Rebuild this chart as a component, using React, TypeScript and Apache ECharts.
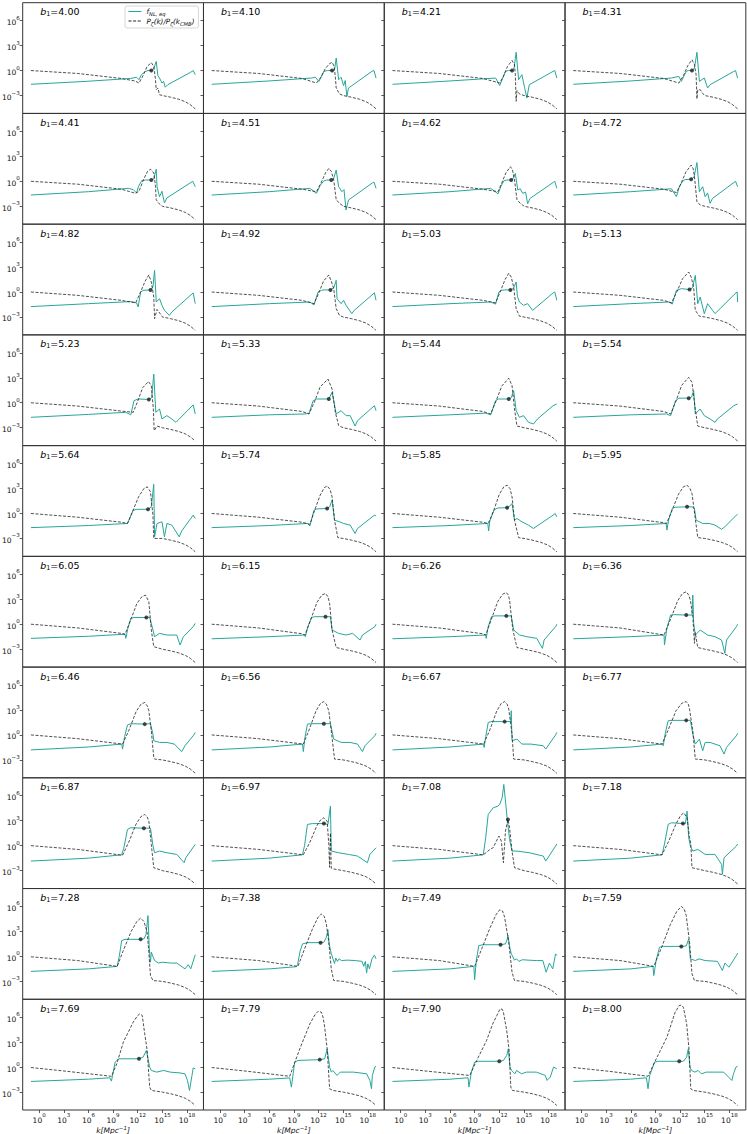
import React, { useEffect, useRef } from "react";
import * as echarts from "echarts";

// ---- labels & ticks (exponents, log10) ----
const b1Labels = [
  "4.00", "4.10", "4.21", "4.31", "4.41", "4.51", "4.62", "4.72",
  "4.82", "4.92", "5.03", "5.13", "5.23", "5.33", "5.44", "5.54",
  "5.64", "5.74", "5.85", "5.95", "6.05", "6.15", "6.26", "6.36",
  "6.46", "6.56", "6.67", "6.77", "6.87", "6.97", "7.08", "7.18",
  "7.28", "7.38", "7.49", "7.59", "7.69", "7.79", "7.90", "8.00",
];
const xTickExps = [0, 3, 6, 9, 12, 15, 18];
const yTickExps = [-3, 0, 3, 6];

// ---- data: [log10 k, log10 value] ----
// common late-time tail of P_zeta(k)/P_zeta(k_CMB)
const pzTail = [[15, -3.0], [16, -3.2], [17, -3.45], [17.8, -3.75], [18.4, -4.1], [19, -4.6]];

const f400 = [[-1,-1.65],[5.7,-1.3],[11.15,-0.95],[11.85,-0.8],[12.15,-1.1],[12.45,-0.5],[12.95,-0.1],[13.25,0],[13.65,0],[13.95,0.2],[14.25,1.1],[14.45,-0.6],[14.65,-0.9],[14.95,-1.5],[15.15,-1.3],[15.35,-2.0],[15.65,-1.7],[17.15,-0.9],[18.45,-0.2],[18.75,0],[19,-0.5]];
const p400 = [[-1,0],[4.7,-0.35],[10,-0.95],[11.65,-1.25],[12.15,-1.5],[12.65,-0.6],[13.15,0.5],[13.65,0.95],[13.95,0.5],[14.15,-1.0],[14.25,-2.3],[14.45,-2.1],[14.65,-2.9]];
const f410 = [[-1,-1.65],[6,-1.25],[11.15,-0.9],[11.6,-0.8],[12.05,-1.3],[12.65,-0.1],[13.1,0],[13.65,0],[13.95,0.1],[14.15,1.5],[14.45,-1.1],[14.75,-0.8],[15.05,-1.8],[15.25,-1.2],[15.45,-3.1],[15.65,-2.1],[18.5,-0.1],[18.75,0],[19,-0.9]];
const p410 = [[-1,0],[4.7,-0.35],[10,-0.95],[11.75,-1.5],[12.3,-0.8],[12.8,0.2],[13.3,0.8],[13.65,1.0],[13.9,0.5],[14.05,-0.8],[14.15,-2.1],[14.55,-2.8]];
const f421 = [[-1,-1.65],[6,-1.25],[11.55,-0.9],[12.05,-1.8],[12.75,-0.1],[13.1,0],[13.55,0],[13.8,0.3],[14.05,2.2],[14.35,-1.1],[14.75,-0.5],[15.05,-1.9],[15.35,-3.3],[15.65,-1.7],[18.55,-0.1],[18.75,0],[19,-0.9]];
const p421 = [[-1,0],[4.7,-0.35],[10,-0.95],[12.05,-1.5],[12.5,-0.7],[13.0,0.5],[13.55,1.2],[13.85,0.7],[13.95,-0.5],[14.05,-3.7],[14.15,-2.4],[14.45,-2.8]];
const f431 = [[-1,-1.65],[6,-1.25],[10.95,-0.9],[11.85,-0.7],[12.15,-1.3],[12.75,-0.1],[13.0,0],[13.45,0],[13.75,0.3],[14.05,2.2],[14.35,-1.3],[14.95,-0.9],[15.35,-2.1],[15.65,-1.7],[18.55,-0.1],[18.75,0],[19,-0.9]];
const p431 = [[-1,0],[4.7,-0.35],[10,-0.95],[11.85,-1.5],[12.4,-0.6],[12.95,0.6],[13.45,1.3],[13.75,0.7],[13.95,-0.5],[14.05,-3.4],[14.15,-2.3],[14.45,-2.3],[14.8,-2.8]];
const f441 = [[-1,-1.65],[6,-1.25],[10.85,-0.85],[11.45,-1.0],[11.85,-1.4],[12.1,-0.6],[12.5,0.1],[12.95,0.15],[13.65,0.15],[13.95,0.3],[14.25,1.45],[14.35,-0.65],[14.65,-1.85],[14.95,-1.2],[15.25,-2.6],[15.55,-2.0],[18.45,-0.15],[18.7,0],[19,-0.65]];
const p441 = [[-1,0],[4.7,-0.35],[10,-0.95],[11.75,-1.45],[12.15,-1.2],[12.7,0.2],[13.2,1.2],[13.55,1.45],[13.95,1.0],[14.15,-0.5],[14.25,-2.2],[14.55,-2.65],[14.85,-2.85]];
const f451 = [[-1,-1.65],[6,-1.25],[10.95,-0.85],[11.75,-1.45],[12.2,-0.5],[12.65,0.05],[13.0,0.15],[13.55,0.15],[13.85,0.35],[14.15,1.35],[14.45,-0.65],[14.85,-1.25],[15.1,-1.0],[15.35,-3.45],[15.65,-2.25],[18.55,-0.2],[18.75,-0.1],[19,-0.85]];
const p451 = [[-1,0],[4.7,-0.35],[10,-0.95],[11.75,-1.25],[12.3,-0.2],[12.85,1.0],[13.25,1.55],[13.55,1.2],[13.85,0.15],[14.15,-2.2],[14.55,-2.65],[14.85,-2.85]];
const f462 = [[-1,-1.65],[6,-1.25],[10.95,-0.85],[11.85,-1.5],[12.2,-0.6],[12.55,0.05],[12.9,0.15],[13.45,0.15],[13.7,0.35],[13.95,0.95],[14.25,-1.05],[14.55,-0.9],[14.85,-1.45],[15.2,-1.3],[15.45,-2.7],[15.75,-2.05],[18.55,-0.15],[18.75,0],[19,-0.85]];
const p462 = [[-1,0],[4.7,-0.35],[10,-0.95],[11.85,-1.25],[12.3,-0.2],[12.8,1.0],[13.35,1.75],[13.6,1.4],[13.85,0.15],[14.15,-2.2],[14.55,-2.65],[14.85,-2.85]];
const f472 = [[-1,-1.65],[6,-1.25],[10.95,-0.9],[11.55,-1.85],[11.9,-0.7],[12.25,-0.05],[12.6,0.2],[13.35,0.25],[13.7,0.5],[14.05,2.25],[14.35,-1.25],[14.75,-0.65],[15.05,-1.85],[15.35,-1.4],[15.65,-2.65],[15.95,-2.05],[18.55,-0.15],[18.75,0],[19,-0.65]];
const p472 = [[-1,0],[4.7,-0.35],[10,-0.95],[11.55,-1.35],[12.1,-0.3],[12.7,1.1],[13.35,1.95],[13.6,1.5],[13.75,0.55],[14.05,-2.45],[14.45,-2.85]];
const f482 = [[-1,-1.75],[6,-1.4],[11.15,-1.15],[11.85,-1.3],[12.05,-1.8],[12.35,0],[12.65,0.2],[13.55,0.25],[13.85,0.6],[14.05,2.6],[14.25,-1.2],[14.65,-0.8],[14.95,-1.6],[15.25,-2.2],[15.85,-2.8],[16.15,-2.4],[18.75,-0.1],[19,-1.4]];
const p482 = [[-1,0],[4.7,-0.4],[10,-1.0],[11.75,-1.3],[12.3,-0.1],[12.9,1.3],[13.35,2.05],[13.65,1.2],[13.95,-0.6],[14.05,-3.2],[14.35,-2.1],[14.95,-2.9]];
const f492 = [[-1,-1.75],[6,-1.4],[10.95,-1.2],[11.45,-1.55],[11.95,0],[12.35,0.2],[12.65,0.25],[13.45,0.25],[13.85,0.5],[14.15,1.4],[14.25,-0.8],[14.75,-1.4],[15.05,-1.0],[15.35,-1.6],[16.05,-2.6],[16.35,-2.2],[18.8,-0.1],[19,-1.0]];
const p492 = [[-1,0],[4.7,-0.4],[10,-1.0],[11.45,-1.4],[12.0,-0.2],[12.6,1.3],[13.25,2.05],[13.55,1.3],[13.85,0.4],[14.15,-2.0],[14.55,-2.8]];
const f503 = [[-1,-1.75],[6,-1.4],[10.95,-1.2],[11.55,-1.45],[11.95,0],[12.3,0.2],[12.65,0.25],[13.35,0.25],[13.7,0.4],[14.05,1.2],[14.2,-0.5],[14.45,-1.2],[14.95,-1.6],[15.45,-1.4],[16.05,-2.2],[16.3,-2.0],[18.55,-0.1],[18.75,0],[19,-1.0]];
const p503 = [[-1,0],[4.7,-0.4],[10,-1.0],[11.55,-1.3],[12.1,0.0],[12.7,1.5],[13.15,2.25],[13.45,1.8],[13.75,0.6],[14.05,-2.0],[14.45,-2.9]];
const f513 = [[-1,-1.75],[6,-1.4],[10.65,-1.2],[11.05,-1.45],[11.55,0.2],[12.15,0.4],[13.15,0.3],[13.5,0.5],[13.85,2.0],[14.15,-1.4],[14.45,-0.6],[14.95,-2.6],[15.35,-1.4],[15.95,-2.2],[16.25,-2.6],[18.8,-0.1],[18.95,0.0],[19,-1.2]];
const p513 = [[-1,0],[4.7,-0.4],[10,-1.0],[10.95,-1.3],[11.6,0.0],[12.3,1.6],[13.05,2.4],[13.35,1.8],[13.65,0.6],[13.85,-2.2],[14.35,-2.9]];
const f523 = [[-1,-1.75],[6,-1.4],[10.55,-1.15],[11.15,-1.45],[11.55,0.25],[12.05,0.45],[13.35,0.4],[13.7,0.6],[13.95,3.45],[14.2,-1.15],[14.65,-0.75],[14.95,-1.95],[15.55,-1.55],[16.15,-1.95],[16.65,-2.35],[18.75,-0.25],[19,-1.35]];
const p523 = [[-1,0],[4.7,-0.4],[10,-1.0],[11.45,-1.15],[12.0,0.2],[12.6,1.8],[13.3,2.55],[13.65,2.05],[13.9,-0.75],[14.0,-3.35],[14.35,-2.8]];
const f533 = [[-1,-1.75],[6,-1.45],[10.35,-1.35],[10.85,-1.25],[11.35,0.25],[11.75,0.45],[13.25,0.45],[13.65,1.25],[14.15,-1.35],[14.75,-0.95],[15.35,-1.55],[15.85,-1.55],[16.45,-2.8],[16.75,-2.15],[18.8,-0.35],[19,-0.95]];
const p533 = [[-1,0],[4.7,-0.4],[10,-1.05],[10.85,-1.35],[11.5,0.1],[12.2,1.9],[13.15,2.85],[13.65,1.65],[14.05,-1.15],[14.45,-2.75]];
const f544 = [[-1,-1.75],[6,-1.45],[10.35,-1.25],[10.95,-1.45],[11.55,0.25],[11.9,0.45],[13.15,0.45],[13.45,0.6],[13.75,1.45],[14.05,-0.95],[14.45,-1.75],[14.95,-1.55],[15.55,-2.35],[16.15,-2.55],[16.65,-1.95],[18.55,-0.35],[19,-0.15]];
const p544 = [[-1,0],[4.7,-0.4],[10,-1.05],[10.95,-1.35],[11.6,0.2],[12.3,2.0],[13.15,2.95],[13.55,2.05],[13.85,-0.75],[14.15,-2.8]];
const f554 = [[-1,-1.75],[6,-1.45],[10.35,-1.35],[10.85,-1.55],[11.45,0.25],[11.85,0.55],[13.05,0.55],[13.4,0.7],[13.65,1.45],[13.85,-1.35],[14.45,-0.75],[14.95,-1.55],[15.65,-1.95],[16.25,-2.35],[16.55,-1.95],[18.55,-0.35],[19,-0.15]];
const p554 = [[-1,0],[4.7,-0.4],[10,-1.05],[10.85,-1.35],[11.5,0.2],[12.2,2.1],[13.05,3.05],[13.45,2.45],[13.85,-0.75],[14.15,-2.8]];
const f564 = [[-1,-1.7],[6,-1.45],[10.75,-1.2],[11.45,0.4],[11.95,0.5],[13.25,0.5],[13.65,0.8],[13.95,3.5],[14.05,-2.8],[14.35,-1.2],[14.95,-1.0],[15.25,-2.8],[15.55,-1.2],[16.15,-1.4],[17.05,-2.8],[17.35,-2.1],[18.75,-0.2],[19,-0.6]];
const p564 = [[-1,0],[4.7,-0.45],[10,-1.05],[10.75,-1.2],[11.4,0.3],[12.1,2.0],[12.75,3.0],[13.15,3.2],[13.55,2.6],[13.85,-0.2],[13.95,-3.0],[14.35,-3.0]];
const f574 = [[-1,-1.7],[6,-1.45],[10.65,-1.2],[10.95,-1.5],[11.45,0.4],[11.8,0.55],[13.05,0.6],[13.35,0.8],[13.65,1.6],[13.95,-0.8],[14.55,-1.0],[15.05,-1.2],[15.85,-1.4],[16.45,-2.4],[16.75,-1.8],[18.8,-0.2],[19,-0.3]];
const p574 = [[-1,0],[4.7,-0.45],[10,-1.05],[10.95,-1.3],[11.5,0.3],[12.2,2.2],[12.7,3.1],[13.05,3.3],[13.4,2.9],[13.65,2.0],[13.95,-0.8],[14.35,-2.9]];
const f585 = [[-1,-1.7],[6,-1.45],[10.6,-1.2],[10.7,-2.1],[10.85,-0.9],[11.35,0.4],[11.75,0.65],[12.95,0.7],[13.3,0.9],[13.55,1.2],[13.85,-0.8],[14.15,-0.6],[14.75,-1.0],[15.55,-1.4],[16.15,-1.8],[16.75,-1.4],[18.55,-0.2],[18.8,0],[19,-0.4]];
const p585 = [[-1,0],[4.7,-0.45],[10,-1.05],[10.65,-1.2],[11.3,0.3],[12.0,2.3],[12.55,3.2],[12.95,3.4],[13.3,3.0],[13.55,2.0],[13.85,-0.8],[14.35,-2.9]];
const f595 = [[-1,-1.7],[6,-1.45],[10.3,-1.2],[10.4,-2.0],[10.6,-0.8],[11.05,0.6],[11.4,0.75],[12.85,0.8],[13.45,0.8],[13.75,0.6],[13.95,-0.8],[14.75,-1.2],[15.55,-1.2],[16.25,-1.4],[17.05,-1.9],[17.45,-1.6],[18.85,-0.2],[19,-0.1]];
const p595 = [[-1,0],[4.7,-0.45],[10,-1.1],[10.35,-1.2],[11.0,0.3],[11.8,2.3],[12.4,3.2],[12.85,3.4],[13.2,3.0],[13.45,2.4],[13.85,-0.6],[14.15,-2.9]];
const f605 = [[-1,-1.7],[6,-1.45],[10.45,-1.2],[10.55,-1.7],[10.8,-0.5],[11.15,0.7],[11.55,0.8],[13.05,0.8],[13.45,0.85],[13.85,-0.7],[14.05,-1.5],[14.65,-1.1],[15.55,-1.3],[16.75,-1.3],[17.15,-2.5],[17.55,-1.5],[18.75,-0.3],[19,0.1]];
const p605 = [[-1,0],[4.7,-0.45],[10,-1.1],[10.45,-1.2],[11.1,0.4],[11.9,2.5],[12.5,3.3],[12.95,3.5],[13.35,2.7],[13.65,-0.7],[13.95,-2.7]];
const f615 = [[-1,-1.75],[6,-1.5],[10.35,-1.3],[10.4,-1.5],[10.7,-0.3],[11.15,0.8],[11.5,0.9],[12.85,0.9],[13.45,0.9],[13.65,-0.7],[14.45,-1.1],[15.35,-1.3],[16.15,-1.1],[17.05,-1.9],[17.35,-1.3],[18.85,-0.3],[19,0]];
const p615 = [[-1,0],[4.7,-0.45],[10,-1.15],[10.35,-1.3],[11.0,0.4],[11.8,2.6],[12.4,3.5],[12.85,3.7],[13.15,3.3],[13.35,2.5],[13.65,-0.7],[14.15,-2.8]];
const f626 = [[-1,-1.75],[6,-1.5],[10.35,-1.3],[10.4,-1.7],[10.65,-0.3],[11.05,0.9],[11.45,1.0],[12.85,1.0],[13.45,1.0],[13.75,-0.7],[14.45,-1.3],[15.35,-1.5],[16.55,-1.7],[17.25,-2.9],[17.45,-1.9],[18.85,-0.3],[19,0]];
const p626 = [[-1,0],[4.7,-0.45],[10,-1.15],[10.35,-1.3],[11.0,0.5],[11.8,2.7],[12.4,3.6],[12.85,3.8],[13.1,3.5],[13.25,2.9],[13.65,-0.7],[14.15,-2.8]];
const f636 = [[-1,-1.75],[6,-1.5],[10.05,-1.3],[10.1,-2.5],[10.4,-0.5],[10.85,1.1],[11.2,1.15],[12.75,1.1],[13.45,1.1],[13.55,3.5],[13.65,0.2],[13.85,-1.3],[14.45,-0.7],[15.35,-1.3],[16.25,-1.5],[17.05,-1.9],[17.45,-3.5],[17.65,-1.9],[18.85,-0.3],[19,0]];
const p636 = [[-1,0],[4.7,-0.45],[10.05,-1.3],[10.8,0.5],[11.7,2.8],[12.3,3.7],[12.75,3.9],[13.05,3.5],[13.25,2.9],[13.55,0.9],[13.75,-2.3],[13.85,-1.0],[14.15,-2.8]];
const f646 = [[-1,-1.8],[6,-1.45],[10.05,-1.1],[10.15,-1.7],[10.4,-0.2],[10.75,1.2],[11.15,1.35],[12.85,1.3],[13.55,1.35],[13.85,0.1],[13.95,-0.7],[14.65,-0.9],[15.55,-0.9],[16.45,-1.1],[17.35,-2.0],[17.75,-1.3],[18.75,-0.1],[19,0.3]];
const p646 = [[-1,0],[4.7,-0.45],[10.15,-1.1],[10.9,0.5],[11.8,2.8],[12.4,3.7],[12.85,3.9],[13.15,3.5],[13.35,2.9],[13.65,0.5],[13.95,-2.7],[14.05,-2.9]];
const f656 = [[-1,-1.8],[6,-1.45],[10.05,-1.1],[10.15,-2.0],[10.35,-0.3],[10.65,1.3],[11.05,1.35],[12.65,1.35],[13.45,1.35],[13.85,-0.5],[14.75,-0.9],[15.85,-0.9],[16.75,-1.1],[17.35,-2.0],[17.65,-1.3],[18.85,-0.1],[19,0.2]];
const p656 = [[-1,0],[4.7,-0.45],[10.15,-1.1],[10.85,0.6],[11.7,2.9],[12.25,3.8],[12.65,4.0],[12.95,3.7],[13.25,2.9],[13.55,0.5],[13.95,-2.9]];
const f667 = [[-1,-1.8],[6,-1.45],[10.05,-1.1],[10.15,-1.5],[10.35,-0.2],[10.65,1.5],[11.0,1.6],[12.65,1.6],[13.4,1.6],[13.45,2.9],[13.55,-0.7],[14.15,-0.5],[14.75,-1.1],[15.85,-1.1],[17.35,-1.3],[17.65,-1.7],[18.85,0],[19,0.3]];
const p667 = [[-1,0],[4.7,-0.45],[10.1,-1.1],[10.85,0.6],[11.7,2.9],[12.25,3.8],[12.65,4.0],[12.95,3.7],[13.15,3.1],[13.55,0.1],[13.75,-2.9]];
const f677 = [[-1,-1.8],[6,-1.45],[9.8,-1.1],[9.95,-1.3],[10.2,0.2],[10.55,1.7],[10.9,1.75],[12.75,1.75],[13.25,1.75],[13.55,0.1],[13.85,-1.1],[14.35,-0.5],[14.75,-1.9],[15.05,-0.9],[15.65,-0.9],[16.85,-1.3],[17.35,-2.3],[17.65,-1.5],[18.85,-0.1],[19,0.2]];
const p677 = [[-1,0],[4.7,-0.45],[9.8,-1.1],[10.55,0.6],[11.5,2.9],[12.2,3.8],[12.75,4.0],[13.0,3.7],[13.15,3.1],[13.55,0.5],[13.85,-2.9]];
const f687 = [[-1,-1.85],[6,-1.5],[10.05,-1.1],[10.3,-0.3],[10.75,1.95],[11.15,2.15],[12.75,2.1],[13.55,2.1],[13.85,0],[14.05,-0.85],[14.65,-0.65],[15.55,-0.85],[16.75,-1.05],[17.65,-2.05],[17.85,-1.45],[19,0.15]];
const p687 = [[-1,0],[4.7,-0.45],[10.15,-1.15],[10.9,0.4],[11.8,2.6],[12.4,3.5],[12.85,3.75],[13.15,3.45],[13.35,2.95],[13.65,0.15],[13.95,-2.65]];
const f697 = [[-1,-1.85],[6,-1.5],[10.05,-1.1],[10.3,0],[10.65,2.55],[11.25,2.65],[12.65,2.65],[13.15,2.55],[13.45,4.75],[13.55,-0.65],[14.45,-0.85],[15.65,-1.05],[16.75,-1.25],[17.95,-2.05],[18.25,-1.05],[19,-0.25]];
const p697 = [[-1,0],[4.7,-0.45],[10.15,-1.1],[10.9,0.3],[11.8,2.4],[12.3,3.15],[12.65,3.35],[13.05,2.95],[13.25,0.15],[13.35,-2.6],[13.45,1.5],[13.55,-2.7],[13.85,-2.8]];
const f708 = [[-1,-1.85],[6,-1.5],[10.05,-1.1],[10.35,1.0],[10.65,3.75],[11.25,4.55],[11.85,4.75],[12.05,4.95],[12.35,5.75],[12.55,7.35],[12.75,5.35],[12.95,3.35],[13.25,0.75],[13.55,-0.65],[14.15,-0.65],[15.65,-0.85],[17.35,-1.25],[17.65,-1.85],[18.85,-0.05],[19,0.2]];
const p708 = [[-1,0],[4.7,-0.45],[10.05,-1.1],[10.8,-0.5],[11.25,-0.25],[11.95,1.15],[12.25,0.55],[12.5,-2.05],[12.75,1.75],[13.05,3.15],[13.25,2.15],[13.55,-0.65],[13.85,-2.65]];
const f718 = [[-1,-1.85],[6,-1.5],[9.8,-1.1],[10.1,0.2],[10.55,2.55],[10.95,2.75],[12.35,2.65],[12.65,2.65],[12.85,4.15],[13.05,0.95],[13.25,-0.05],[13.55,-0.65],[14.15,-0.45],[15.05,-1.05],[16.25,-1.05],[17.05,-2.25],[17.15,-3.45],[17.35,-1.45],[18.85,-0.05],[19,0.2]];
const p718 = [[-1,0],[4.7,-0.45],[9.8,-1.1],[10.6,0.5],[11.5,2.6],[12.05,3.6],[12.45,3.95],[12.85,3.35],[13.15,0.95],[13.3,0.3],[13.45,-2.65]];
const f728 = [[-1,-1.8],[6,-1.5],[9.5,-1.2],[9.75,0],[10.05,1.9],[10.45,2.05],[12.35,2.05],[12.75,2.1],[13.0,2.6],[13.25,4.9],[13.4,1.0],[13.55,-0.7],[13.65,0.5],[14.05,-0.5],[14.5,-0.8],[15.0,-0.7],[16.0,-0.8],[16.75,-0.8],[17.75,-1.5],[18.15,-1.0],[18.45,-1.5],[19,0.2]];
const p728 = [[-1,-0.05],[4.7,-0.5],[9.5,-1.2],[10.2,0.6],[11.2,3.0],[11.9,4.2],[12.35,4.6],[12.75,4.2],[13.15,2.9],[13.35,0.5],[13.55,-2.3],[13.85,-2.9]];
const f738 = [[-1,-1.8],[6,-1.5],[9.3,-1.24],[9.45,-1.0],[9.75,0.6],[10.05,1.5],[10.65,1.65],[12.25,1.65],[12.65,1.7],[12.95,2.3],[13.15,3.2],[13.3,1.5],[13.55,0.35],[13.95,-0.85],[14.1,-0.2],[14.3,-0.6],[14.5,-0.3],[14.8,-0.5],[15.5,-0.45],[16.5,-0.5],[17.3,-0.6],[17.5,-1.2],[17.7,-0.6],[17.85,-2.0],[18.0,-0.9],[18.2,-1.5],[18.5,-0.3],[18.8,0.15],[19,-0.3]];
const p738 = [[-1,-0.05],[4.7,-0.5],[9.5,-1.2],[10.3,0.9],[11.3,3.4],[11.95,4.7],[12.35,5.1],[12.7,4.8],[12.95,3.9],[13.25,1.7],[13.55,-1.5],[13.85,-2.9]];
const f749 = [[-1,-1.8],[6,-1.5],[8.9,-1.2],[9.0,-2.8],[9.2,-0.5],[9.5,1.3],[10.05,1.4],[12.15,1.4],[12.75,1.5],[12.95,2.0],[13.05,2.55],[13.25,1.2],[13.45,0.35],[13.85,-0.45],[14.1,-0.3],[14.4,-0.6],[14.8,-0.4],[15.5,-0.45],[16.5,-0.5],[17.3,-0.5],[17.7,-1.9],[18.1,-0.8],[18.5,-1.5],[18.85,0.3],[19,0.1]];
const p749 = [[-1,-0.05],[4.7,-0.5],[9.0,-1.2],[9.9,1.0],[10.9,3.5],[11.6,5.0],[12.05,5.6],[12.4,5.45],[12.65,4.7],[13.15,1.7],[13.55,-1.9],[13.85,-2.9]];
const f759 = [[-1,-1.8],[6,-1.5],[8.7,-1.2],[8.8,-2.3],[9.1,-0.4],[9.5,1.1],[9.95,1.2],[12.15,1.2],[12.75,1.25],[13.05,2.1],[13.25,-0.3],[13.85,-0.5],[14.3,-0.3],[15.05,-0.5],[16.55,-0.6],[17.15,-1.7],[17.45,-0.8],[17.95,-1.3],[18.85,0.1],[19,0.4]];
const p759 = [[-1,-0.05],[4.7,-0.5],[8.8,-1.2],[9.8,1.2],[10.8,3.8],[11.6,5.4],[12.15,6.0],[12.5,5.7],[12.75,4.9],[13.15,1.7],[13.45,-2.1],[13.75,-2.9]];
const f769 = [[-1,-1.72],[6,-1.45],[8.6,-1.28],[8.8,-1.68],[9.25,0.6],[9.7,1.0],[12.15,1.0],[12.65,1.2],[13.05,2.0],[13.45,0],[13.65,-0.4],[14.3,-0.6],[15.15,-0.4],[15.95,-0.6],[17.15,-0.7],[17.75,-0.8],[18.05,-1.6],[18.3,-2.8],[18.6,-1.0],[18.75,-0.1],[19,-0.2]];
const p769 = [[-1,-0.05],[3.35,-0.5],[8.8,-1.1],[9.45,0.4],[10.25,3.0],[11.45,5.4],[11.95,6.15],[12.25,6.4],[12.55,6.2],[12.85,4.0],[13.15,2.0],[13.45,-2.4],[13.65,-2.8]];
const f779 = [[-1,-1.72],[6,-1.45],[8.5,-1.3],[8.7,-2.4],[9.1,0.6],[9.5,0.8],[12.15,0.9],[12.75,1.0],[13.05,2.2],[13.35,0],[13.55,-0.6],[13.75,-0.4],[14.25,-1.0],[14.65,-0.6],[16.25,-0.6],[17.85,-0.8],[18.25,-1.6],[18.45,-2.6],[18.55,-1.0],[18.85,0],[19,0.1]];
const p779 = [[-1,-0.05],[3.35,-0.5],[8.5,-1.1],[8.9,0],[9.8,2.4],[10.95,5.2],[11.6,6.35],[11.95,6.7],[12.35,6.6],[12.55,6.0],[12.75,4.8],[13.05,2.2],[13.35,-2.6],[13.75,-2.8]];
const f790 = [[-1,-1.72],[6,-1.45],[8.2,-1.28],[8.3,-2.4],[8.6,-0.6],[9.0,0.6],[9.45,0.7],[12.0,0.7],[12.5,0.8],[12.9,1.4],[13.1,2.2],[13.3,0],[13.5,-0.4],[13.9,-0.8],[14.1,-0.4],[14.7,-0.8],[15.3,-0.6],[16.5,-0.6],[17.6,-1.0],[17.8,-1.6],[18.2,-1.2],[18.6,0],[19,-0.2]];
const p790 = [[-1,-0.05],[3.35,-0.5],[8.4,-1.0],[9.25,0.8],[10.45,3.2],[11.2,5.2],[11.7,6.2],[12.1,7.0],[12.35,6.95],[12.5,6.6],[12.9,4.4],[13.2,2.0],[13.4,-2.4],[13.6,-2.8]];
const f800 = [[-1,-1.72],[6,-1.45],[7.9,-1.28],[8.1,-2.6],[8.3,-1.0],[8.9,0.6],[9.3,0.7],[11.9,0.7],[12.4,0.7],[12.8,1.2],[13.0,2.2],[13.2,0],[13.4,-0.4],[13.8,-0.6],[14.2,-0.4],[14.6,-0.8],[15.2,-0.6],[17.3,-0.6],[17.9,-1.2],[18.3,-1.6],[18.5,-0.8],[18.8,0],[19,0.1]];
const p800 = [[-1,-0.05],[3.35,-0.5],[8.1,-1.1],[8.9,0.6],[10.4,3.6],[11.4,6.6],[11.9,7.4],[12.15,7.45],[12.4,7.2],[12.8,5.2],[13.1,2.0],[13.3,-2.6],[13.6,-2.8]];

const fnlCurves = [
  f400, f410, f421, f431, f441, f451, f462, f472, f482, f492, f503, f513, f523, f533, f544, f554,
  f564, f574, f585, f595, f605, f615, f626, f636, f646, f656, f667, f677, f687, f697, f708, f718,
  f728, f738, f749, f759, f769, f779, f790, f800,
];
const pzHeads = [
  p400, p410, p421, p431, p441, p451, p462, p472, p482, p492, p503, p513, p523, p533, p544, p554,
  p564, p574, p585, p595, p605, p615, p626, p636, p646, p656, p667, p677, p687, p697, p708, p718,
  p728, p738, p749, p759, p769, p779, p790, p800,
];
const dotPoints = [
  [13.65, 0], [13.65, 0], [13.55, 0], [13.45, 0], [13.65, 0.15], [13.55, 0.15], [13.45, 0.15], [13.35, 0.25],
  [13.55, 0.25], [13.45, 0.25], [13.35, 0.25], [13.15, 0.3], [13.35, 0.4], [13.25, 0.45], [13.15, 0.45], [13.05, 0.55],
  [13.25, 0.5], [13.05, 0.6], [12.95, 0.7], [12.85, 0.8], [13.05, 0.8], [12.85, 0.9], [12.85, 1.0], [12.75, 1.1],
  [12.85, 1.3], [12.65, 1.35], [12.65, 1.6], [12.75, 1.75], [12.75, 2.1], [12.65, 2.65], [13.05, 3.15], [12.35, 2.65],
  [12.35, 2.05], [12.25, 1.65], [12.15, 1.4], [12.15, 1.2], [12.15, 1.0], [12.15, 0.9], [12.0, 0.7], [11.9, 0.7],
];

// ---- layout / style ----
const X_MIN = -2, X_MAX = 20, Y_MIN = -5.15, Y_MAX = 8.15;
const FIG_LEFT = 22.7, FIG_TOP = 2.7, CELL_W = 180.78, CELL_H = 110.73;
const FONT = "'DejaVu Sans', 'Noto Sans', sans-serif";
const TEAL = "#26a69a";
const FRAME = "#333333";
const TXT = "#111111";

const expText = (v: number) => String(v).replace("-", "\u2212");

const tickRich = {
  b: { fontFamily: FONT, fontWeight: "normal", fontSize: 7.5, color: TXT, lineHeight: 12, verticalAlign: "bottom" },
  s: { fontFamily: FONT, fontWeight: "normal", fontSize: 5.5, color: TXT, lineHeight: 5.5, verticalAlign: "top" },
};

function buildOption() {
  const grid: any[] = [];
  const xAxis: any[] = [];
  const yAxis: any[] = [];
  const series: any[] = [];
  const title: any[] = [];

  b1Labels.forEach((lab, i) => {
    const r = Math.floor(i / 4);
    const c = i % 4;
    const left = FIG_LEFT + c * CELL_W;
    const top = FIG_TOP + r * CELL_H;
    const bottomRow = r === 9;
    const leftCol = c === 0;

    grid.push({
      left, top, width: CELL_W, height: CELL_H,
      show: true, borderColor: FRAME, borderWidth: 1, backgroundColor: "transparent",
      containLabel: false, outerBoundsMode: "none",
    });

    xAxis.push({
      type: "value", gridIndex: i, min: X_MIN, max: X_MAX, position: "bottom",
      axisLine: { show: false, onZero: false }, splitLine: { show: false },
      axisTick: { show: bottomRow, customValues: xTickExps, length: 3, inside: false, lineStyle: { color: FRAME, width: 0.8 } },
      axisLabel: {
        show: bottomRow, customValues: xTickExps, margin: 2, color: TXT,
        formatter: (v: number) => `{b|10}{s|${expText(v)}}`, rich: tickRich,
      },
      name: bottomRow ? "{i|k[Mpc}{s|\u22121}{i|]}" : "",
      nameLocation: "middle", nameGap: 7,
      nameTextStyle: {
        color: TXT,
        rich: {
          i: { fontFamily: FONT, fontStyle: "italic", fontWeight: "normal", fontSize: 7.5, color: TXT, lineHeight: 10, verticalAlign: "bottom" },
          s: { fontFamily: FONT, fontStyle: "italic", fontWeight: "normal", fontSize: 5.5, color: TXT, lineHeight: 5.5, verticalAlign: "top" },
        },
      },
    });

    yAxis.push({
      type: "value", gridIndex: i, min: Y_MIN, max: Y_MAX, position: "left",
      axisLine: { show: false, onZero: false }, splitLine: { show: false },
      axisTick: { show: true, customValues: yTickExps, length: 3, inside: false, lineStyle: { color: FRAME, width: 0.8 } },
      axisLabel: {
        show: leftCol, customValues: yTickExps, margin: 3, color: TXT,
        formatter: (v: number) => `{b|10}{s|${expText(v)}}`, rich: tickRich,
      },
    });

    title.push({
      text: `{b|b}{s|1}{t|=${lab}}`,
      left: left + 17.5, top: top + 3, padding: 0,
      textStyle: {
        fontWeight: "normal",
        rich: {
          b: { fontFamily: FONT, fontStyle: "italic", fontWeight: "normal", fontSize: 9.5, color: "#000", lineHeight: 12, verticalAlign: "middle" },
          s: { fontFamily: FONT, fontWeight: "normal", fontSize: 6.5, color: "#000", lineHeight: 6.5, verticalAlign: "bottom" },
          t: { fontFamily: FONT, fontWeight: "normal", fontSize: 9.5, color: "#000", lineHeight: 12, verticalAlign: "middle" },
        },
      },
    });

    series.push({
      type: "line", name: "fNL", xAxisIndex: i, yAxisIndex: i,
      data: fnlCurves[i], symbol: "none", silent: true, z: 2,
      lineStyle: { color: TEAL, width: 1 }, itemStyle: { color: TEAL },
    });
    series.push({
      type: "line", name: "P", xAxisIndex: i, yAxisIndex: i,
      data: [...pzHeads[i], ...pzTail], symbol: "none", silent: true, z: 3,
      lineStyle: { color: "#222", width: 0.8, type: [3, 1.6] }, itemStyle: { color: "#222" },
    });
    series.push({
      type: "scatter", xAxisIndex: i, yAxisIndex: i, silent: true, z: 4,
      data: [dotPoints[i]], symbol: "circle", symbolSize: 4,
      itemStyle: { color: "#1b1b1b" },
    });
  });

  return {
    animation: false,
    backgroundColor: "#ffffff",
    textStyle: { fontFamily: FONT },
    grid, xAxis, yAxis, series, title,
    legend: {
      show: true, data: ["fNL", "P"], selectedMode: false,
      left: 125, top: 6, orient: "vertical",
      itemWidth: 13, itemHeight: 8, itemGap: 1,
      padding: [2, 4, 2, 3],
      backgroundColor: "rgba(255,255,255,0.85)", borderColor: "#cccccc", borderWidth: 0.8, borderRadius: 2,
      itemStyle: { opacity: 0, borderWidth: 0 },
      lineStyle: { width: 1 },
      formatter: (n: string) =>
        n === "fNL"
          ? "{i|f}{sub|NL, eq}"
          : "{i|P}{sub|\u03b6}{i|(k)/P}{sub|\u03b6}{i|(k}{sub|CMB}{i|)}",
      textStyle: {
        color: TXT,
        rich: {
          i: { fontFamily: FONT, fontStyle: "italic", fontSize: 7.2, color: TXT, lineHeight: 10, verticalAlign: "middle" },
          sub: { fontFamily: FONT, fontStyle: "italic", fontSize: 5.2, color: TXT, lineHeight: 5.2, verticalAlign: "bottom" },
        },
      },
    },
  };
}

export default function App() {
  const ref = useRef<HTMLDivElement>(null);
  useEffect(() => {
    if (!ref.current) return;
    const chart = echarts.init(ref.current, null, { renderer: "svg" });
    chart.setOption(buildOption() as any);
    return () => chart.dispose();
  }, []);
  return (
    <div
      ref={ref}
      style={{ position: "absolute", left: 0, top: 0, width: 747, height: 1134, background: "#fff" }}
    />
  );
}
